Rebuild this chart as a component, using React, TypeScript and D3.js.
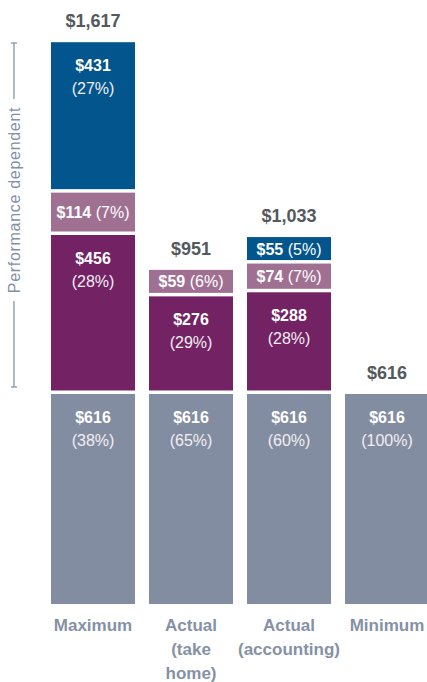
import React from 'react';
import * as d3 from 'd3';

const categories = ['Maximum', 'Actual (take home)', 'Actual (accounting)', 'Minimum'];
const categoryLines = [['Maximum'], ['Actual', '(take', 'home)'], ['Actual', '(accounting)'], ['Minimum']];
const totals = [1617, 951, 1033, 616];

// stacked from bottom to top
const fixedPay = [616, 616, 616, 616];
const fixedPct = [38, 65, 60, 100];
const shortTerm = [456, 276, 288, 0];
const shortTermPct = [28, 29, 28, 0];
const deferred = [114, 59, 74, 0];
const deferredPct = [7, 6, 7, 0];
const longTerm = [431, 0, 55, 0];
const longTermPct = [27, 0, 5, 0];

const series = [
  { values: fixedPay, pct: fixedPct, color: '#838da1' },
  { values: shortTerm, pct: shortTermPct, color: '#732264' },
  { values: deferred, pct: deferredPct, color: '#a07092' },
  { values: longTerm, pct: longTermPct, color: '#03558e' },
];

const W = 427;
const H = 682;
const GAP = 3.5;
const FONT = '"Liberation Sans", Arial, sans-serif';

export default function App() {
  const x = d3.scaleBand<string>().domain(categories).range([51, 429]).paddingInner(14 / 98).paddingOuter(0);
  const y = d3.scaleLinear().domain([0, 1617]).range([604, 52.7]);
  const px = (v: number) => y(0) - y(v);

  const bars = categories.map((cat, i) => {
    let base = y(0);
    const segs: { top: number; h: number; value: number; pct: number; color: string }[] = [];
    series.forEach((s, k) => {
      const v = s.values[i];
      if (!v) return;
      if (k > 0) base -= GAP;
      const h = Math.max(px(v), 23);
      segs.push({ top: base - h, h, value: v, pct: s.pct[i], color: s.color });
      base -= h;
    });
    return { cat, x0: x(cat)!, segs, top: base, total: totals[i], lines: categoryLines[i] };
  });

  const bw = x.bandwidth();
  const fmt = d3.format(',');

  return (
    <svg width={W} height={H} style={{ position: 'absolute', left: 0, top: 0, fontFamily: FONT }}>
      <rect width={W} height={H} fill="#fff" />
      {bars.map((b) => (
        <g key={b.cat}>
          {b.segs.map((s, j) => {
            const cx = b.x0 + bw / 2;
            const twoLine = s.h > 40;
            return (
              <g key={j}>
                <rect x={b.x0} y={s.top} width={bw} height={s.h} fill={s.color} />
                {twoLine ? (
                  <>
                    <text x={cx} y={s.top + 29} textAnchor="middle" fill="#fff" fontSize={16} fontWeight="bold">
                      ${s.value}
                    </text>
                    <text x={cx} y={s.top + 52} textAnchor="middle" fill="#f2eef3" fontSize={16}>
                      ({s.pct}%)
                    </text>
                  </>
                ) : (
                  <text x={cx} y={s.top + s.h / 2 + 6} textAnchor="middle" fill="#fff" fontSize={16}>
                    <tspan fontWeight="bold">${s.value}</tspan>
                    <tspan> ({s.pct}%)</tspan>
                  </text>
                )}
              </g>
            );
          })}
          <text x={b.x0 + bw / 2} y={b.top - 15} textAnchor="middle" fill="#55595e" fontSize={18} fontWeight="bold">
            ${fmt(b.total)}
          </text>
          {b.lines.map((l, j) => (
            <text key={j} x={b.x0 + bw / 2} y={631 + j * 24} textAnchor="middle" fill="#8591a6" fontSize={17} fontWeight="bold">
              {l}
            </text>
          ))}
        </g>
      ))}
      {/* performance dependent bracket */}
      <g stroke="#8893a9" strokeWidth={1.3}>
        <line x1={14} x2={14} y1={43} y2={99} />
        <line x1={14} x2={14} y1={301} y2={387} />
        <line x1={11} x2={17} y1={43} y2={43} />
        <line x1={11} x2={17} y1={387} y2={387} />
      </g>
      <text transform="translate(20,200) rotate(-90)" textAnchor="middle" fill="#8390a8" fontSize={16} letterSpacing={0.7}>
        Performance dependent
      </text>
    </svg>
  );
}
